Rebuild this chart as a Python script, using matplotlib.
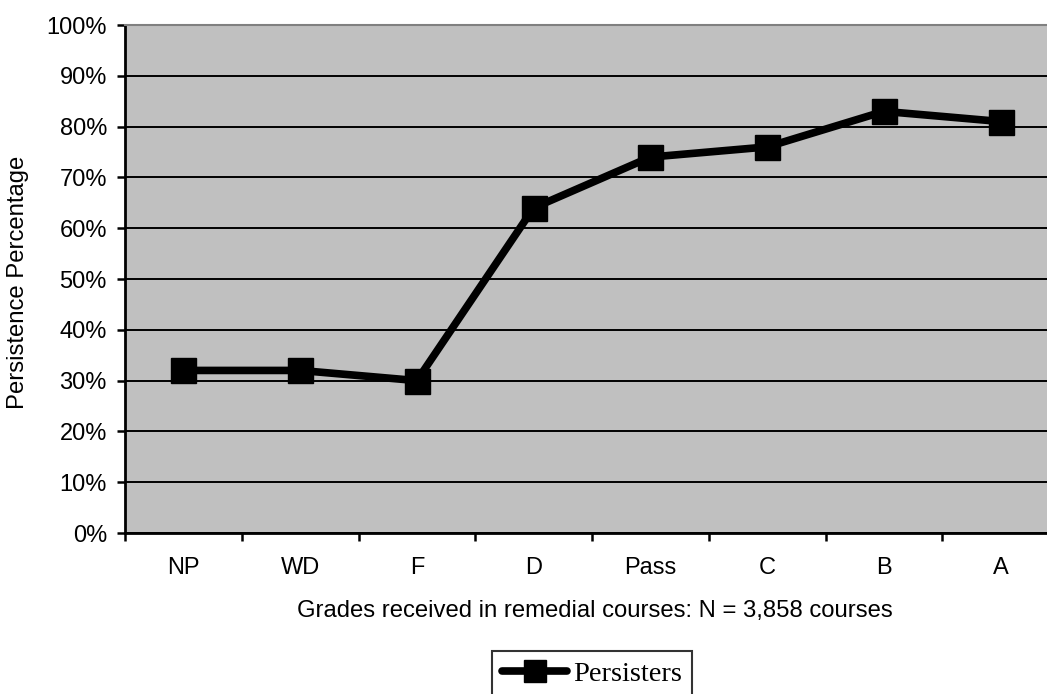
import matplotlib
matplotlib.use("Agg")
import matplotlib.pyplot as plt
from matplotlib.ticker import FixedLocator, PercentFormatter

categories = ["NP", "WD", "F", "D", "Pass", "C", "B", "A"]
persisters = [32, 32, 30, 64, 74, 76, 83, 81]
yticks = [0, 10, 20, 30, 40, 50, 60, 70, 80, 90, 100]

W, H = 1047, 694
fig = plt.figure(figsize=(W / 100, H / 100), dpi=100)
plt.rcParams['font.family'] = ['Liberation Sans', 'DejaVu Sans']

left, right, top, bottom = 125, 1059, 25, 533
ax = fig.add_axes([left / W, 1 - bottom / H, (right - left) / W, (bottom - top) / H])
ax.set_facecolor('#c0c0c0')

x = list(range(len(categories)))
ax.plot(x, persisters, color='black', lw=5.5, marker='s', markersize=18,
        markerfacecolor='black', markeredgecolor='black', label='Persisters', zorder=3,
        solid_joinstyle='round', solid_capstyle='round')

ax.set_xlim(-0.5, len(categories) - 0.5)
ax.set_ylim(0, 100)
ax.set_yticks(yticks)
ax.yaxis.set_major_formatter(PercentFormatter(decimals=0))
ax.set_xticks(x)
ax.set_xticklabels(categories)
ax.xaxis.set_minor_locator(FixedLocator([i - 0.5 for i in range(len(categories) + 1)]))

ax.grid(axis='y', color='black', lw=1.4, zorder=1)
ax.set_axisbelow(True)

ax.tick_params(axis='y', which='major', direction='out', length=6, width=1.8,
               labelsize=17, pad=7, color='black')
ax.tick_params(axis='x', which='major', length=0, labelsize=17, pad=17)
ax.tick_params(axis='x', which='minor', direction='out', length=6, width=1.8, color='black')

for s in ['left', 'bottom']:
    ax.spines[s].set_color('black')
    ax.spines[s].set_linewidth(2)
ax.spines['top'].set_color('#808080')
ax.spines['top'].set_linewidth(1.5)
ax.spines['right'].set_visible(False)

fig.text(595 / W, 1 - 611 / H, "Grades received in remedial courses: N = 3,858 courses",
         ha='center', va='center', fontsize=17.2)
fig.text(18 / W, 1 - 282 / H, "Persistence Percentage", rotation=90,
         ha='center', va='center', fontsize=17.2)

leg = fig.legend(loc='upper left', bbox_to_anchor=(492 / W, 1 - 651 / H),
                 bbox_transform=fig.transFigure, borderaxespad=0,
                 frameon=True, fancybox=False, handlelength=2.3, handletextpad=0.2,
                 borderpad=0.35, markerscale=0.85,
                 prop={'family': 'Liberation Serif', 'size': 20.5})
leg.get_frame().set_edgecolor('black')
leg.get_frame().set_linewidth(1.5)

fig.savefig('out.png', dpi=100)
